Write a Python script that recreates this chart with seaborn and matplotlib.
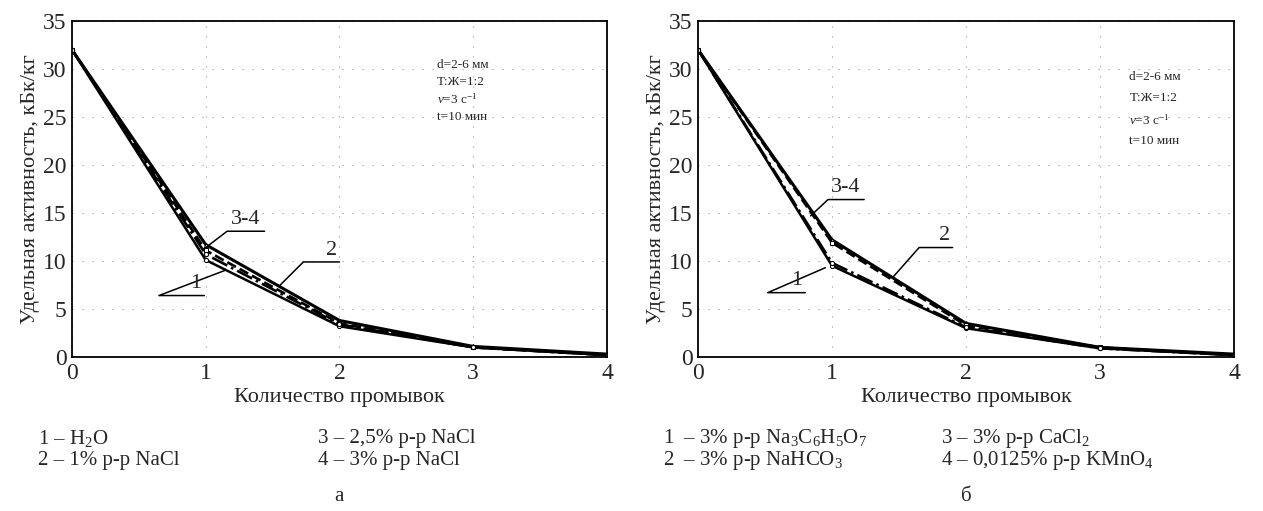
import matplotlib
matplotlib.use("Agg")
import matplotlib.pyplot as plt
import numpy as np
import pandas as pd
import seaborn as sns

# data
washes = [0, 1, 2, 3, 4]

# panel a
a_h2o = [32.0, 10.1, 3.2, 1.0, 0.2]
a_nacl_1 = [32.0, 11.7, 3.8, 1.1, 0.3]
a_nacl_25 = [32.0, 11.1, 3.5, 1.0, 0.2]
a_nacl_3 = [32.0, 10.7, 3.4, 1.0, 0.2]

# panel b
b_citrate = [32.0, 9.5, 3.0, 0.9, 0.2]
b_nahco3 = [32.0, 12.2, 3.5, 1.0, 0.3]
b_cacl2 = [32.0, 11.9, 3.3, 1.0, 0.2]
b_kmno4 = [32.0, 9.8, 3.1, 0.9, 0.2]

a_legend = ["1 – H$_2$O", "2 – 1% р-р NaCl", "3 – 2,5% р-р NaCl", "4 – 3% р-р NaCl"]
b_legend = [
    "1  – 3% р-р Na$_3$C$_6$H$_5$O$_7$",
    "2  – 3% р-р NaHCO$_3$",
    "3 – 3% р-р CaCl$_2$",
    "4 – 0,0125% р-р KMnO$_4$",
]
conditions = ["d=2-6 мм", "Т:Ж=1:2", r"$\nu$=3 с$^{-1}$", "t=10 мин"]

sns.set_style("white")
plt.rcParams["font.family"] = ["Liberation Serif", "DejaVu Serif"]
plt.rcParams["mathtext.fontset"] = "custom"
plt.rcParams["mathtext.rm"] = "Liberation Serif"
plt.rcParams["mathtext.it"] = "Liberation Serif:italic"

STYLES = [
    dict(lw=1.8, ls="-", marker="o", ms=3, mfc="white"),
    dict(lw=2.2, ls="-", marker="^", ms=3, mfc="white"),
    dict(lw=1.9, ls="--", marker="s", ms=3, mfc="white"),
    dict(lw=1.9, ls="-.", marker="o", ms=3, mfc="white"),
]


def draw_panel(ax, series, notes, cond_xy, cond_step):
    for vals, st in zip(series, STYLES):
        df = pd.DataFrame({"n": washes, "a": vals})
        sns.lineplot(data=df, x="n", y="a", ax=ax, color="black", mec="black", **st)
    ax.set_xlim(0, 4)
    ax.set_ylim(0, 35)
    ax.set_xticks(washes)
    ax.set_yticks(np.arange(0, 36, 5))
    ax.tick_params(labelsize=17, length=0, pad=4)
    ax.grid(True, ls=(0, (1, 8)), lw=0.8, color="#999999")
    for s in ax.spines.values():
        s.set_visible(True)
        s.set_color("black")
        s.set_linewidth(1.3)
    ax.set_xlabel("Количество промывок", fontsize=16, labelpad=3)
    ax.set_ylabel("Удельная активность, кБк/кг", fontsize=16, labelpad=2)
    # underlined curve labels with leader lines
    for text, (x0, x1, y), (tx, ty), ha in notes:
        ax.plot([tx, x0, x1], [ty, y, y], color="black", lw=1.1)
        xt = (x0 + x1) / 2 if ha == "center" else x1 - 0.02
        ax.text(xt, y + 0.25, text, ha=ha, va="bottom", fontsize=16)
    cx, cy = cond_xy
    for i, line in enumerate(conditions):
        ax.text(cx, cy - i * cond_step, line, fontsize=9.5, ha="left", va="center")


fig = plt.figure(figsize=(12.63, 5.11), dpi=100)
ax_a = fig.add_axes([0.057, 0.3014, 0.4236, 0.6575])
ax_b = fig.add_axes([0.5527, 0.3014, 0.4243, 0.6575])

draw_panel(
    ax_a,
    [a_h2o, a_nacl_1, a_nacl_25, a_nacl_3],
    [
        ("3-4", (1.16, 1.44, 13.1), (0.99, 11.3), "center"),
        ("2", (1.73, 2.0, 9.9), (1.55, 7.4), "right"),
        ("1", (0.65, 0.99, 6.4), (1.14, 9.0), "right"),
    ],
    (2.73, 30.4),
    1.8,
)
draw_panel(
    ax_b,
    [b_citrate, b_nahco3, b_cacl2, b_kmno4],
    [
        ("3-4", (0.97, 1.24, 16.4), (0.84, 14.7), "center"),
        ("2", (1.65, 1.9, 11.4), (1.46, 8.4), "right"),
        ("1", (0.52, 0.8, 6.7), (0.95, 9.3), "right"),
    ],
    (3.22, 29.2),
    2.25,
)

# legends under the panels
for x0, x1, labels in [(0.03, 0.252, a_legend), (0.525, 0.745, b_legend)]:
    fig.text(x0, 0.141, labels[0], fontsize=15, va="center")
    fig.text(x0, 0.099, labels[1], fontsize=15, va="center")
    fig.text(x1, 0.141, labels[2], fontsize=15, va="center")
    fig.text(x1, 0.099, labels[3], fontsize=15, va="center")

fig.text(0.268, 0.028, "а", fontsize=15, ha="center", va="center")
fig.text(0.765, 0.028, "б", fontsize=15, ha="center", va="center")

fig.savefig("out.png", dpi=100, facecolor="white")
plt.close(fig)
